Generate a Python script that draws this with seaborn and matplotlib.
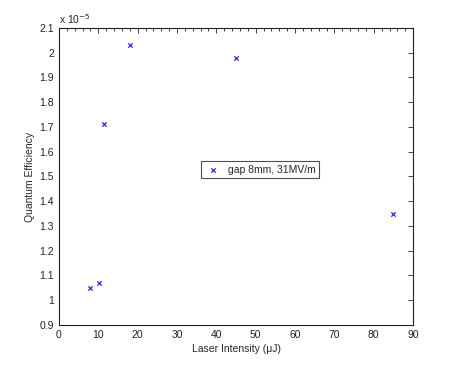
import numpy as np
import pandas as pd
import matplotlib
matplotlib.use("Agg")
import matplotlib.pyplot as plt
from matplotlib.ticker import MultipleLocator, FormatStrFormatter
import seaborn as sns

# data (quantum efficiency in units of 1e-5)
laser_uj = [8, 10.3, 11.5, 18, 45, 85]
qe_e5 = [1.05, 1.07, 1.71, 2.03, 1.98, 1.35]
series_label = "gap 8mm, 31MV/m"

sns.set_style("white")
plt.rcParams['font.family'] = ['Liberation Sans', 'DejaVu Sans']
plt.rcParams['font.size'] = 7.5

df = pd.DataFrame({"x": laser_uj, "y": qe_e5})

fig = plt.figure(figsize=(4.57, 3.65), dpi=100)
ax = fig.add_axes([0.129, 0.1096, 0.775, 0.814])

sns.scatterplot(data=df, x="x", y="y", ax=ax, marker="x", color="#2a2aff",
                s=10, linewidth=0.9, label=series_label)

ax.set_xlim(0, 90)
ax.set_ylim(0.9, 2.1)
ax.xaxis.set_major_locator(MultipleLocator(10))
ax.xaxis.set_minor_locator(MultipleLocator(2))
ax.yaxis.set_major_locator(MultipleLocator(0.1))
ax.yaxis.set_major_formatter(FormatStrFormatter('%g'))
ax.tick_params(which='both', direction='in', top=True, right=True,
               labelsize=7.5, colors='#222222', width=0.6)
ax.tick_params(which='major', length=3.5)
ax.tick_params(which='minor', length=2)
for sp in ax.spines.values():
    sp.set_color('#222222')
    sp.set_linewidth(0.8)

ax.set_xlabel("Laser Intensity (\u03bcJ)", fontsize=7.5, labelpad=3)
ax.set_ylabel("Quantum Efficiency", fontsize=7.5, labelpad=3)
ax.text(0.0, 1.005, "x 10$^{-5}$", transform=ax.transAxes, fontsize=7.5,
        ha='left', va='bottom')

leg = ax.legend(loc='center', bbox_to_anchor=(0.568, 0.523), frameon=True,
                fancybox=False, edgecolor='#222222', fontsize=7.5,
                handletextpad=0.6, borderpad=0.35, handlelength=1.6,
                borderaxespad=0)
leg.get_frame().set_linewidth(0.8)

fig.savefig("out.png", dpi=100)
